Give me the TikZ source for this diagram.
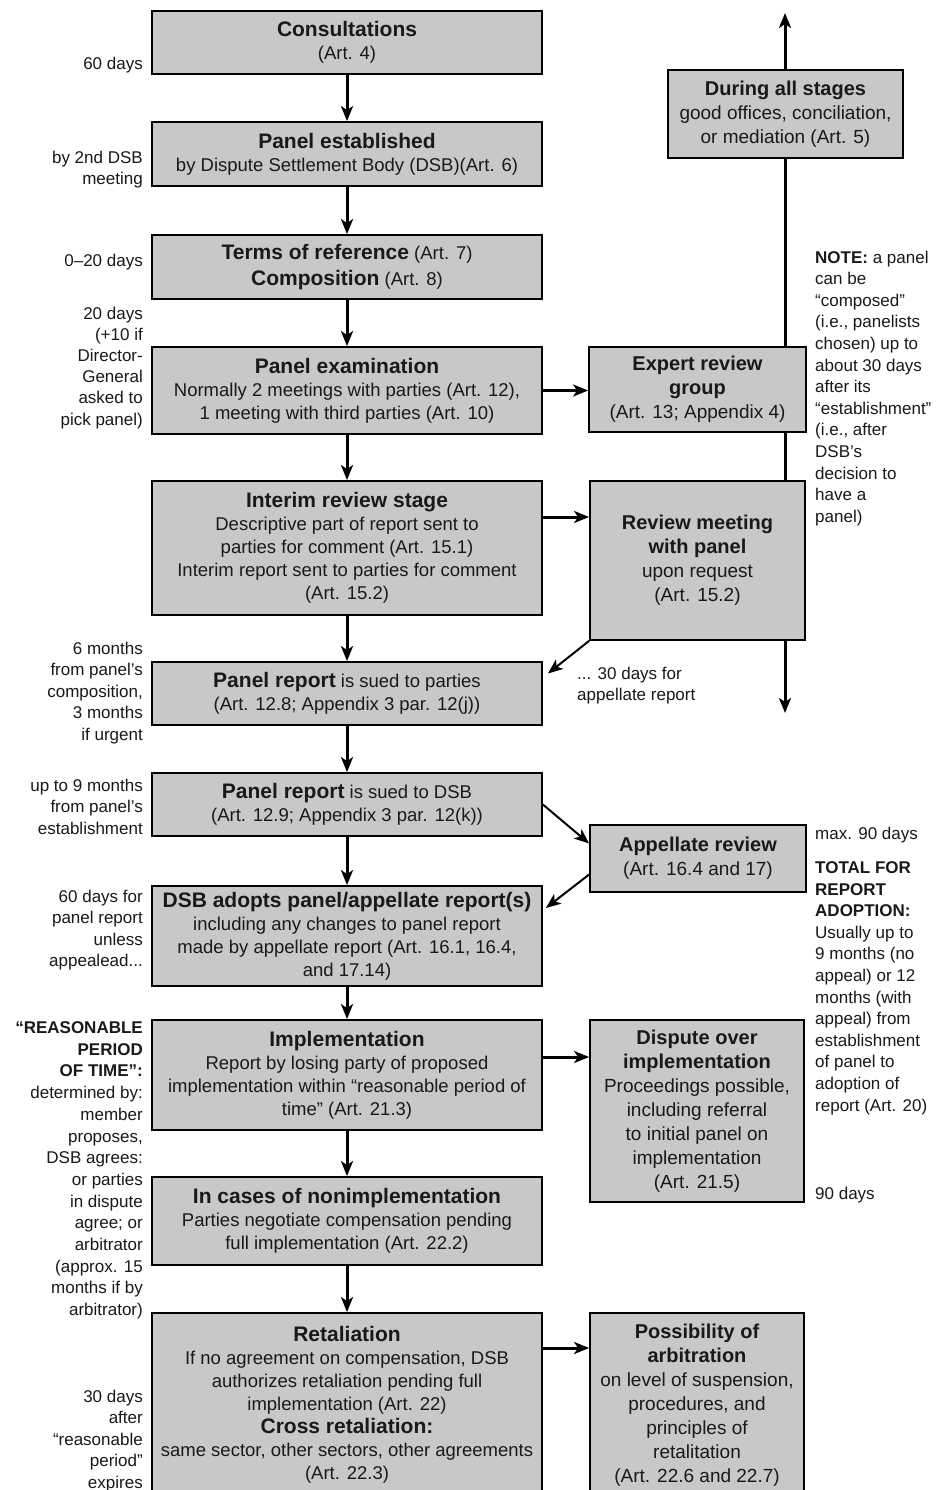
\documentclass[tikz,border=0pt]{standalone}
\usepackage{fontspec}
\setmainfont{Liberation Sans}
\usetikzlibrary{arrows.meta}
\definecolor{boxgray}{RGB}{200,200,200}
\definecolor{ink}{RGB}{25,25,25}
\newcommand\bodyf{\fontsize{18.5}{23}\selectfont}
\newcommand\ttlf{\fontsize{21}{23}\selectfont\bfseries}
\newcommand\notef{\fontsize{17}{21.6}\selectfont}
\newcommand\rbodyf{\fontsize{19}{24}\selectfont}
\newcommand\rttlf{\fontsize{20}{24}\selectfont\bfseries}
\tikzset{
  box/.style 2 args={draw=black, line width=1.8pt, fill=boxgray, align=center,
    inner sep=0pt, minimum width=#1, minimum height=#2, text=ink, font=\bodyf},
  rbox/.style 2 args={box={#1}{#2}, font=\rbodyf},
  tip/.tip={Stealth[length=15pt,width=12pt,inset=4pt]},
  flow/.style={line width=3pt, -tip},
  lnote/.style={anchor=north east, align=right, inner sep=0pt, font=\notef, text=ink},
  rnote/.style={anchor=north west, align=left, inner sep=0pt, font=\notef, text=ink},
}
\begin{document}
\begin{tikzpicture}[x=1pt,y=-1pt]
\fill[white] (0,0) rectangle (935,1490);
\useasboundingbox (0,0) rectangle (935,1490);

% long vertical line behind right boxes
\coordinate (vtop) at (785,13);
\coordinate (vbot) at (785,713);
\draw[line width=3pt, tip-tip] (vbot) -- (vtop);

% main column
\node[box={390pt}{63pt}] (cons) at (347,42.5) {{\ttlf Consultations}\\(Art. 4)};
\node[box={390pt}{64pt}] (est) at (347,154) {{\ttlf Panel established}\\by Dispute Settlement Body (DSB)(Art. 6)};
\node[box={390pt}{64pt}, font=\fontsize{18.5}{26}\selectfont] (terms) at (347,267) {{\ttlf Terms of reference} (Art. 7)\\{\ttlf Composition} (Art. 8)};
\node[box={390pt}{87pt}] (exam) at (347,390.5) {{\ttlf Panel examination}\\Normally 2 meetings with parties (Art. 12),\\1 meeting with third parties (Art. 10)};
\node[box={390pt}{134pt}] (interim) at (347,548) {{\ttlf Interim review stage}\\Descriptive part of report sent to\\parties for comment (Art. 15.1)\\Interim report sent to parties for comment\\(Art. 15.2)};
\node[box={390pt}{63pt}] (prep) at (347,693.5) {{\ttlf Panel report} is sued to parties\\(Art. 12.8; Appendix 3 par. 12(j))};
\node[box={390pt}{63pt}] (pdsb) at (347,804.5) {{\ttlf Panel report} is sued to DSB\\(Art. 12.9; Appendix 3 par. 12(k))};
\node[box={390pt}{100pt}] (adopt) at (347,936) {{\ttlf DSB adopts panel/appellate report(s)}\\including any changes to panel report\\made by appellate report (Art. 16.1, 16.4,\\and 17.14)};
\node[box={390pt}{110pt}] (impl) at (347,1075) {{\ttlf Implementation}\\Report by losing party of proposed\\implementation within “reasonable period of\\time” (Art. 21.3)};
\node[box={390pt}{88pt}] (nonimpl) at (347,1221) {{\ttlf In cases of nonimplementation}\\Parties negotiate compensation pending\\full implementation (Art. 22.2)};
\node[box={390pt}{184pt}] (retal) at (347,1405) {{\ttlf Retaliation}\\If no agreement on compensation, DSB\\authorizes retaliation pending full\\implementation (Art. 22)\\{\ttlf Cross retaliation:}\\same sector, other sectors, other agreements\\(Art. 22.3)};

% right column
\node[rbox={235pt}{88pt}] (during) at (785.5,114) {{\rttlf During all stages}\\good offices, conciliation,\\or mediation (Art. 5)};
\node[rbox={217pt}{85pt}] (expert) at (697.5,389.5) {{\rttlf Expert review}\\{\rttlf group}\\(Art. 13; Appendix 4)};
\node[rbox={215pt}{159pt}] (review) at (697.5,560.5) {{\rttlf Review meeting}\\{\rttlf with panel}\\upon request\\(Art. 15.2)};
\node[rbox={216pt}{67pt}] (appel) at (698,858.5) {{\rttlf Appellate review}\\(Art. 16.4 and 17)};
\node[rbox={214pt}{182pt}] (disp) at (697,1111) {{\rttlf Dispute over}\\{\rttlf implementation}\\Proceedings possible,\\including referral\\to initial panel on\\implementation\\(Art. 21.5)};
\node[rbox={214pt}{184pt}] (arbit) at (697,1405) {{\rttlf Possibility of}\\{\rttlf arbitration}\\on level of suspension,\\procedures, and\\principles of\\retalitation\\(Art. 22.6 and 22.7)};

% main flow arrows
\draw[flow] (cons) -- (est);
\draw[flow] (est) -- (terms);
\draw[flow] (terms) -- (exam);
\draw[flow] (exam) -- (interim);
\draw[flow] (interim) -- (prep);
\draw[flow] (prep) -- (pdsb);
\draw[flow] (pdsb) -- (adopt);
\draw[flow] (adopt) -- (impl);
\draw[flow] (impl) -- (nonimpl);
\draw[flow] (nonimpl) -- (retal);

% side arrows
\draw[flow] (exam.east) -- (exam.east -| expert.west);
\draw[flow] ([yshift=31pt]interim.east) coordinate (ia) -- (ia -| review.west);
\draw[flow, line width=2pt] (review.south west) -- ([xshift=5pt,yshift=20pt]prep.east);
\draw[flow, line width=2pt] (pdsb.east) -- ([yshift=15pt]appel.west);
\draw[flow, line width=2pt] ([yshift=-16pt]appel.west) -- ([xshift=3pt,yshift=28pt]adopt.east);
\draw[flow] ([yshift=18pt]impl.east) coordinate (ie) -- (ie -| disp.west);
\draw[flow] ([yshift=57pt]retal.east) coordinate (re) -- (re -| arbit.west);

% left notes
\node[lnote] (n60) at (143,56.5) {60 days};
\node[lnote] (n2nd) at (143,150.5) {by 2nd DSB\\meeting};
\node[lnote] (n020) at (143,253.5) {0–20 days};
\node[lnote, font=\fontsize{17}{21.2}\selectfont] (n20) at (143,306.5) {20 days\\(+10 if\\Director-\\General\\asked to\\pick panel)};
\node[lnote] (n6m) at (143,641.5) {6 months\\from panel's\\composition,\\3 months\\if urgent};
\node[lnote] (n9m) at (143,778.5) {up to 9 months\\from panel's\\establishment};
\node[lnote] (n60b) at (143,889.5) {60 days for\\panel report\\unless\\appealead...};
\node[lnote, font=\fontsize{17}{21.7}\selectfont] (nrpt) at (143,1021.5) {{\bfseries “REASONABLE}\\{\bfseries PERIOD}\\{\bfseries OF TIME”:}\\determined by:\\member\\proposes,\\DSB agrees:\\or parties\\in dispute\\agree; or\\arbitrator\\(approx. 15\\months if by\\arbitrator)};
\node[lnote] (n30) at (143,1389.5) {30 days\\after\\“reasonable\\period”\\expires};

% right notes
\node[rnote] (note) at (815,250.5) {{\bfseries NOTE:} a panel\\can be\\“composed”\\(i.e., panelists\\chosen) up to\\about 30 days\\after its\\“establishment”\\(i.e., after\\DSB's\\decision to\\have a\\panel)};
\node[rnote] (app30) at (577,666.5) {... 30 days for\\appellate report};
\node[rnote] (max90) at (815,826.5) {max. 90 days};
\node[rnote] (total) at (815,861.5) {{\bfseries TOTAL FOR}\\{\bfseries REPORT}\\{\bfseries ADOPTION:}\\Usually up to\\9 months (no\\appeal) or 12\\months (with\\appeal) from\\establishment\\of panel to\\adoption of\\report (Art. 20)};
\node[rnote] (d90) at (815,1186.5) {90 days};
\end{tikzpicture}
\end{document}
